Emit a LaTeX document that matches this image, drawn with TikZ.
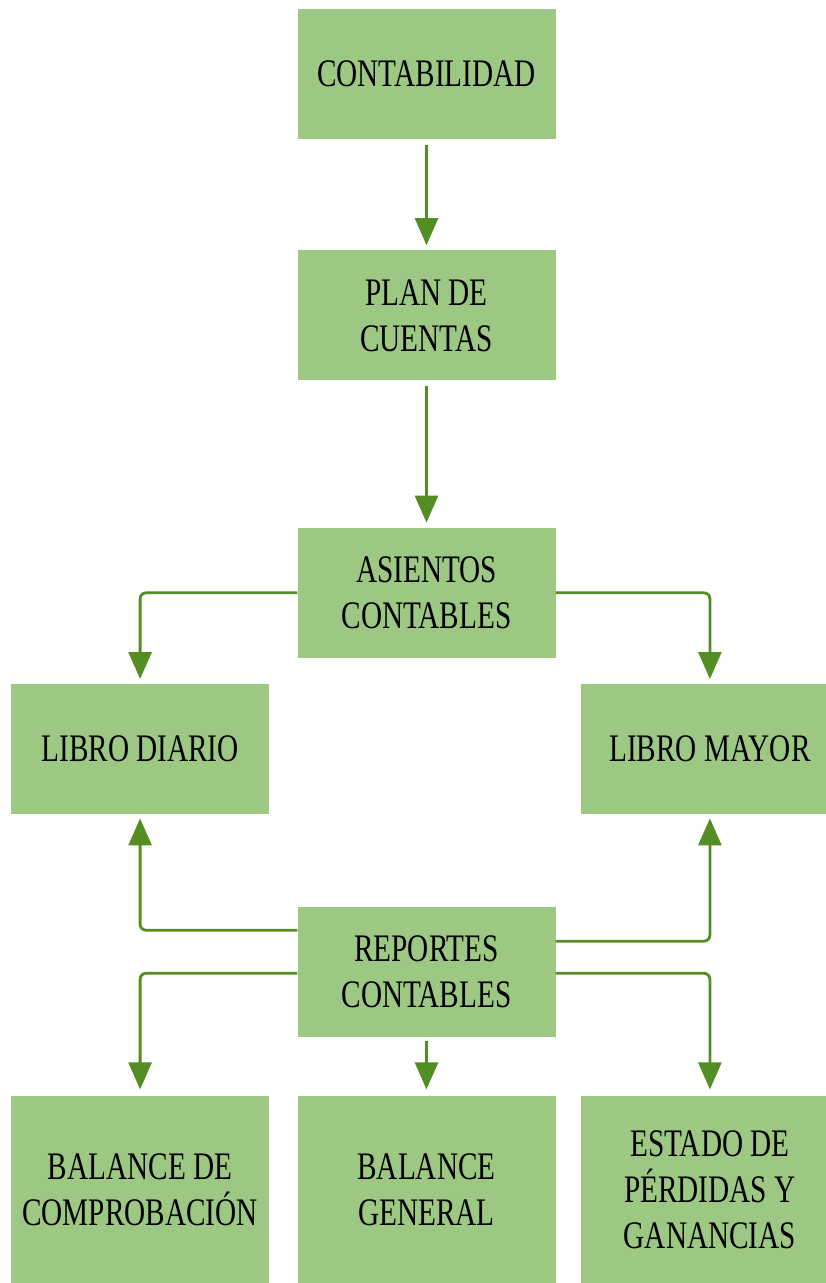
\documentclass[tikz,border=0pt]{standalone}
\usepackage{fontspec}
\setmainfont[FakeStretch=0.75]{Liberation Serif}
\usetikzlibrary{positioning,arrows.meta}
\definecolor{boxgreen}{RGB}{157,200,131}
\definecolor{arrowgreen}{RGB}{84,141,35}

\begin{document}
\begin{tikzpicture}[x=1pt, y=1pt,
  box/.style={fill=boxgreen, minimum width=258pt, minimum height=130pt,
    inner sep=0pt, align=center, font=\fontsize{39}{46}\selectfont},
  tallbox/.style={box, minimum height=189pt},
  link/.style={draw=arrowgreen, line width=2.8pt, rounded corners=6pt,
    -{Triangle[width=23pt,length=27pt]}}]
\clip (0,0) rectangle (826,-1283);

\node[box] (conta) at (426.5,-74) {CONTABILIDAD};
\node[box, below=111pt of conta] (plan) {PLAN DE\\CUENTAS};
\node[box, below=147pt of plan] (asientos) {ASIENTOS\\CONTABLES};
\node[box, below left=26pt and 28pt of asientos] (diario) {LIBRO DIARIO};
\node[box, below right=26pt and 25pt of asientos] (mayor) {LIBRO MAYOR};
\node[box, below=249pt of asientos] (reportes) {REPORTES\\CONTABLES};
\node[tallbox, below=58pt of reportes] (balgen) {BALANCE\\GENERAL};
\node[tallbox, left=28pt of balgen] (balcomp) {BALANCE DE\\COMPROBACIÓN};
\node[tallbox, right=25pt of balgen] (estado) {ESTADO DE\\PÉRDIDAS Y\\GANANCIAS};

% main column
\draw[link, shorten <=6pt, shorten >=5pt] (conta) -- (plan);
\draw[link, shorten <=5pt, shorten >=5pt] (plan) -- (asientos);
\draw[link, shorten <=4pt, shorten >=6pt] (reportes) -- (balgen);

% asientos to libros
\draw[link, shorten >=5pt] (asientos.west) -| (diario.north);
\draw[link, shorten >=5pt] (asientos.east) -| (mayor.north);

% reportes up and down
\draw[link, shorten >=4pt] ([yshift=42pt]reportes.west) -| (diario.south);
\draw[link, shorten >=4pt] ([yshift=31pt]reportes.east) -| (mayor.south);
\draw[link, shorten >=6pt] ([yshift=-1pt]reportes.west) -| (balcomp.north);
\draw[link, shorten >=6pt] ([yshift=-1pt]reportes.east) -| (estado.north);
\end{tikzpicture}
\end{document}
